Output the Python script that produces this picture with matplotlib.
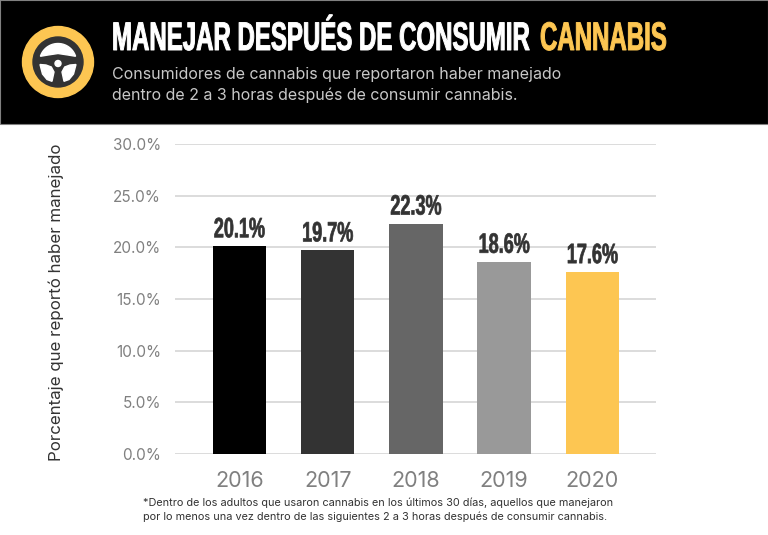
import numpy as np
import matplotlib
matplotlib.use("Agg")
import matplotlib.pyplot as plt
from matplotlib.patches import Circle, Rectangle, Polygon
from matplotlib.patheffects import AbstractPathEffect
from matplotlib.transforms import Affine2D

years = ["2016", "2017", "2018", "2019", "2020"]
values = [20.1, 19.7, 22.3, 18.6, 17.6]
bar_labels = ["20.1%", "19.7%", "22.3%", "18.6%", "17.6%"]
bar_colors = ["#000000", "#333333", "#666666", "#999999", "#FDC652"]
y_ticks = [0, 5, 10, 15, 20, 25, 30]
y_tick_labels = ["0.0%", "5.0%", "10.0%", "15.0%", "20.0%", "25.0%", "30.0%"]

W, H = 768, 535
YELLOW = "#FDC652"
BODY = "Inter"


class TallBold(AbstractPathEffect):
    # no hay fuente condensada instalada: estira en vertical y engrosa el trazo
    def __init__(self, sy, lw):
        super().__init__()
        self.sy = sy
        self.lw = lw

    def draw_path(self, renderer, gc, tpath, affine, rgbFace=None):
        gc0 = renderer.new_gc()
        gc0.copy_properties(gc)
        gc0.set_linewidth(self.lw)
        gc0.set_foreground(rgbFace)
        renderer.draw_path(gc0, tpath, Affine2D().scale(1, self.sy) + affine, rgbFace)
        gc0.restore()


fig = plt.figure(figsize=(W / 100, H / 100), dpi=100, facecolor="white")

# fondo en pixeles para cabecera y textos sueltos
bg = fig.add_axes([0, 0, 1, 1])
bg.set_xlim(0, W)
bg.set_ylim(H, 0)
bg.axis("off")
bg.add_patch(Rectangle((0, 0), W, 124, facecolor="black", edgecolor="#808080", lw=0.8))

# icono del volante
bg.add_patch(Circle((58, 62), 35.5, color=YELLOW))
bg.add_patch(Circle((58, 62), 25, color="#333333"))
ang = np.radians(np.linspace(198, 342, 30))
top_arc = np.column_stack([58 + 18.5 * np.cos(ang), 62 + 18.5 * np.sin(ang)])
bg.add_patch(Polygon(np.vstack([top_arc, [[68, 55], [58, 53.5], [48, 55]]]), color="white"))
bg.add_patch(Circle((58, 63.5), 3, color="white"))
left_spoke = np.array([[40, 64.5], [46, 65], [51.3, 67], [54, 72], [52, 81.3], [47, 79.5], [42.5, 74]])
right_spoke = left_spoke * [-1, 1] + [116, 0]
bg.add_patch(Polygon(left_spoke, color="white"))
bg.add_patch(Polygon(right_spoke, color="white"))

# titulo
title_kw = dict(family="Liberation Sans", fontweight="bold", fontsize=17.3, va="baseline",
                path_effects=[TallBold(1.66, 0.7)])
bg.text(112, 50, "MANEJAR DESPUÉS DE CONSUMIR", color="white", **title_kw)
bg.text(540, 50, "CANNABIS", color=YELLOW, **title_kw)

sub_kw = dict(family=BODY, fontsize=11.5, color="#C8C8C8", va="center")
bg.text(112, 75, "Consumidores de cannabis que reportaron haber manejado", **sub_kw)
bg.text(112, 95, "dentro de 2 a 3 horas después de consumir cannabis.", **sub_kw)

# grafica principal
ax = fig.add_axes([175 / W, (H - 454) / H, (656 - 175) / W, (454 - 144) / H])
ax.patch.set_alpha(0)
xs = list(range(len(years)))
ax.bar(xs, values, width=0.606, color=bar_colors, zorder=3)
ax.set_xlim(-0.731, 4.72)
ax.set_ylim(0, 30)
ax.set_yticks(y_ticks)
ax.set_yticklabels(y_tick_labels, family=BODY, fontsize=11, color="#808080")
ax.set_xticks(xs)
ax.set_xticklabels(years, family=BODY, fontsize=15.5, color="#808080")
ax.tick_params(axis="both", length=0)
ax.tick_params(axis="x", pad=12)
ax.tick_params(axis="y", pad=10)
ax.grid(axis="y", color="#D9D9D9", lw=1.3, zorder=0)
ax.set_axisbelow(True)
for s in ax.spines.values():
    s.set_visible(False)
for x, v, lab in zip(xs, values, bar_labels):
    ax.annotate(lab, (x, v), xytext=(0, 6.5), textcoords="offset points", ha="center", va="baseline",
                family="Liberation Sans", fontweight="bold", fontsize=13, color="#333333", zorder=4,
                path_effects=[TallBold(1.55, 0.5)])

bg.text(56, 302, "Porcentaje que reportó haber manejado", rotation=90, ha="center", va="center",
        family=BODY, fontsize=12.2, color="#333333")

foot_kw = dict(family=BODY, fontsize=7.85, color="#333333", va="center")
bg.text(143, 503, "*Dentro de los adultos que usaron cannabis en los últimos 30 días, aquellos que manejaron", **foot_kw)
bg.text(143, 517, "por lo menos una vez dentro de las siguientes 2 a 3 horas después de consumir cannabis.", **foot_kw)

fig.savefig("out.png", dpi=100)
